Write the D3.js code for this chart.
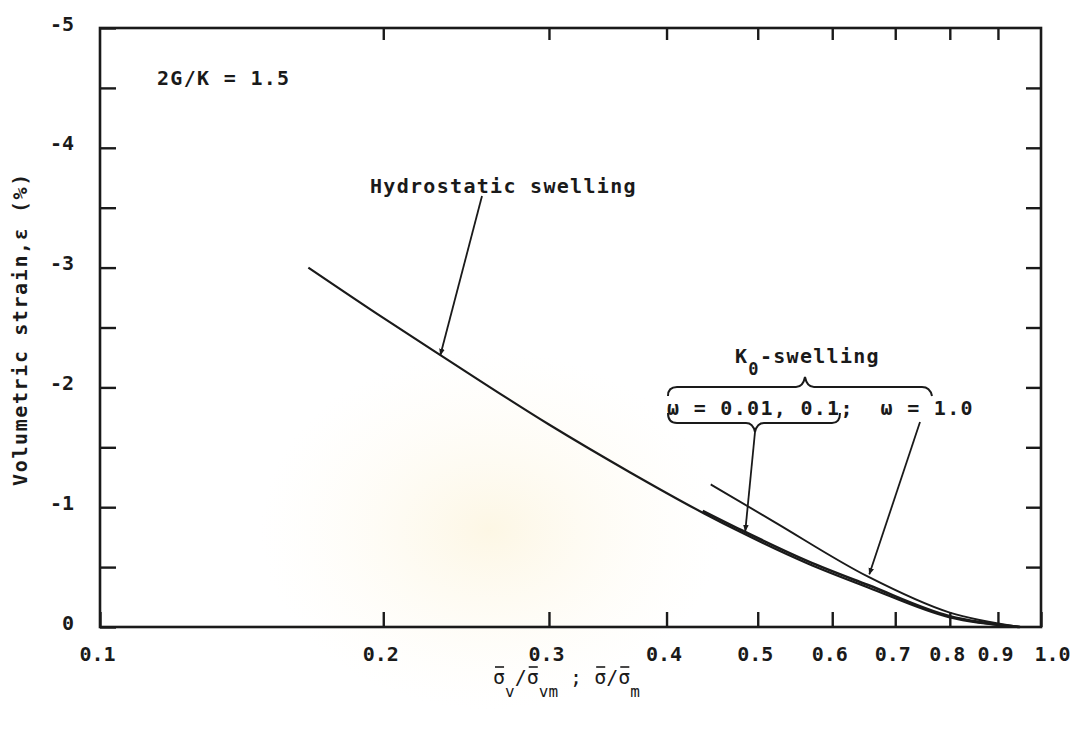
<!DOCTYPE html>
<html>
<head>
<meta charset="utf-8">
<script src="https://cdn.jsdelivr.net/npm/d3@7"></script>
<style>
  body { margin: 0; background: #fff; }
  svg { display: block; }
  text { font-family: "DejaVu Sans Mono", "Liberation Mono", monospace; fill: #1a1a1a; font-weight: bold; }
</style>
</head>
<body>
<div id="chart"></div>
<script>
// ---- data ----
const xTicks = [0.1, 0.2, 0.3, 0.4, 0.5, 0.6, 0.7, 0.8, 0.9, 1.0];
const xTickLabels = ['0.1', '0.2', '0.3', '0.4', '0.5', '0.6', '0.7', '0.8', '0.9', '1.0'];
const yTicks = [0, -0.5, -1, -1.5, -2, -2.5, -3, -3.5, -4, -4.5, -5];
const yTickLabels = ['0', '', '-1', '', '-2', '', '-3', '', '-4', '', '-5'];

// hydrostatic swelling
const hydroX = [0.1665, 0.2, 0.23, 0.3, 0.366, 0.438, 0.48, 0.565, 0.655, 0.8, 0.95];
const hydroY = [-3.0, -2.58, -2.27, -1.69, -1.29, -0.95, -0.79, -0.53, -0.33, -0.08, 0];

// K0 swelling, w = 0.01, 0.1
const k0LowX = [0.437, 0.48, 0.565, 0.655, 0.8, 0.95];
const k0LowY = [-0.97, -0.81, -0.55, -0.35, -0.09, 0];

// K0 swelling, w = 1.0
const k0HighX = [0.4457, 0.52, 0.655, 0.8, 0.95];
const k0HighY = [-1.19, -0.88, -0.42, -0.12, 0];

const W = 1075, H = 733;
const svg = d3.select('#chart').append('svg')
  .attr('width', W)
  .attr('height', H);

const x = d3.scaleLog().domain([0.1, 1]).range([100, 1041]);
const y = d3.scaleLinear().domain([0, -5]).range([627, 28]);

// faint watermark tint
const defs = svg.append('defs');
const grad = defs.append('radialGradient').attr('id', 'wm');
grad.append('stop').attr('offset', '0%').attr('stop-color', '#fbf0cf').attr('stop-opacity', 0.55);
grad.append('stop').attr('offset', '100%').attr('stop-color', '#fdf8ea').attr('stop-opacity', 0);
svg.append('ellipse')
  .attr('cx', 490).attr('cy', 530)
  .attr('rx', 230).attr('ry', 180)
  .attr('fill', 'url(#wm)');

defs.append('marker')
  .attr('id', 'arrow')
  .attr('viewBox', '0 0 10 10')
  .attr('refX', 9).attr('refY', 5)
  .attr('markerWidth', 7).attr('markerHeight', 7)
  .attr('markerUnits', 'userSpaceOnUse')
  .attr('orient', 'auto')
  .append('path')
  .attr('d', 'M0,1 L10,5 L0,9 Z')
  .attr('fill', '#1a1a1a');

// axes, ticks inward
const axBottom = svg.append('g')
  .attr('transform', 'translate(0,' + y(0) + ')')
  .call(d3.axisBottom(x).tickValues(xTicks).tickSize(-15).tickPadding(20)
    .tickFormat((d, i) => xTickLabels[i]));

const axLeft = svg.append('g')
  .attr('transform', 'translate(' + x(0.1) + ',0)')
  .call(d3.axisLeft(y).tickValues(yTicks).tickSize(-16).tickPadding(26)
    .tickFormat((d, i) => yTickLabels[i]));

const axTop = svg.append('g')
  .attr('transform', 'translate(0,' + y(-5) + ')')
  .call(d3.axisTop(x).tickValues(xTicks.slice(1, -1)).tickSize(-12).tickFormat(''));

const axRight = svg.append('g')
  .attr('transform', 'translate(' + x(1) + ',0)')
  .call(d3.axisRight(y).tickValues(yTicks.slice(1, -1)).tickSize(-15).tickFormat(''));

[axBottom, axLeft, axTop, axRight].forEach(g => {
  g.select('.domain').remove();
  g.selectAll('line').attr('stroke', '#1a1a1a').attr('stroke-width', 2.4);
  g.selectAll('text')
    .style('font-family', '"DejaVu Sans Mono", monospace')
    .style('font-size', '20px')
    .style('font-weight', 'bold')
    .attr('fill', '#1a1a1a');
});
axLeft.selectAll('text').attr('dy', '0.1em');
axBottom.selectAll('text').attr('dx', (d, i) => i === xTicks.length - 1 ? 11 : -3);

// frame
svg.append('rect')
  .attr('x', x(0.1)).attr('y', y(-5))
  .attr('width', x(1) - x(0.1))
  .attr('height', y(0) - y(-5))
  .attr('fill', 'none')
  .attr('stroke', '#1a1a1a')
  .attr('stroke-width', 2.6);

// curves
const line = d3.line()
  .x(d => x(d[0]))
  .y(d => y(d[1]))
  .curve(d3.curveMonotoneX);

const series = [
  {xs: hydroX, ys: hydroY, w: 2.2},
  {xs: k0LowX, ys: k0LowY, w: 2.6},
  {xs: k0HighX, ys: k0HighY, w: 1.9}
];
svg.selectAll('path.curve')
  .data(series)
  .enter()
  .append('path')
  .attr('class', 'curve')
  .attr('d', s => line(s.xs.map((v, i) => [v, s.ys[i]])))
  .attr('fill', 'none')
  .attr('stroke', '#1a1a1a')
  .attr('stroke-width', s => s.w);

// annotations
const lab = (t, px, py) => svg.append('text')
  .attr('x', px).attr('y', py)
  .style('font-size', '20px')
  .style('letter-spacing', '1.3px')
  .style('white-space', 'pre')
  .text(t);

lab('2G/K = 1.5', 157, 85);
lab('Hydrostatic swelling', 370, 193);

const k0 = svg.append('text')
  .attr('x', 735).attr('y', 363)
  .style('font-size', '20px')
  .style('letter-spacing', '1.3px');
k0.append('tspan').text('K');
k0.append('tspan').attr('dy', 12).style('font-size', '17px').text('0');
k0.append('tspan').attr('dy', -12).text('-swelling');

lab('\u03c9 = 0.01, 0.1;  \u03c9 = 1.0', 667, 415);

// braces
svg.append('path')
  .attr('d', 'M668,396 Q668,387 677,387 L796,387 Q803,387 805,377 Q807,387 814,387 L922,387 Q930,387 932,396')
  .attr('fill', 'none').attr('stroke', '#1a1a1a').attr('stroke-width', 2);
svg.append('path')
  .attr('d', 'M668,413 Q668,423 677,423 L746,423 Q753,423 755,432 Q757,423 764,423 L832,423 Q840,423 840,413')
  .attr('fill', 'none').attr('stroke', '#1a1a1a').attr('stroke-width', 2);

// arrows
const arrows = [
  {from: [482, 196], to: [0.23, -2.27]},
  {from: [755, 432], to: [0.485, -0.80]},
  {from: [920, 422], to: [0.657, -0.44]}
];
svg.selectAll('line.arrow')
  .data(arrows)
  .enter()
  .append('line')
  .attr('class', 'arrow')
  .attr('x1', d => d.from[0]).attr('y1', d => d.from[1])
  .attr('x2', d => x(d.to[0])).attr('y2', d => y(d.to[1]))
  .attr('stroke', '#1a1a1a')
  .attr('stroke-width', 1.8)
  .attr('marker-end', 'url(#arrow)');

// axis titles
svg.append('text')
  .attr('transform', 'translate(27,329) rotate(-90)')
  .attr('text-anchor', 'middle')
  .style('font-size', '20px')
  .style('letter-spacing', '1.6px')
  .text('Volumetric strain,\u03b5 (%)');

// x title: sigma with a bar drawn over each one
const xt = svg.append('text')
  .attr('x', 493).attr('y', 684)
  .style('font-size', '20px')
  .style('font-weight', 'normal')
  .style('white-space', 'pre');
const sigmas = [];
const sig = () => sigmas.push(xt.append('tspan').text('\u03c3').node());
const sub = t => xt.append('tspan').attr('dy', 13).style('font-size', '16px').text(t);
const up = t => xt.append('tspan').attr('dy', -13).text(t);
sig();
sub('v');
up('/');
sig();
sub('vm');
up(' ; ');
sig();
xt.append('tspan').text('/');
sig();
sub('m');

sigmas.forEach(n => {
  const r = n.getExtentOfChar(0);
  svg.append('line')
    .attr('x1', r.x + 2).attr('x2', r.x + r.width - 1)
    .attr('y1', 667).attr('y2', 667)
    .attr('stroke', '#1a1a1a')
    .attr('stroke-width', 1.6);
});
</script>
</body>
</html>
